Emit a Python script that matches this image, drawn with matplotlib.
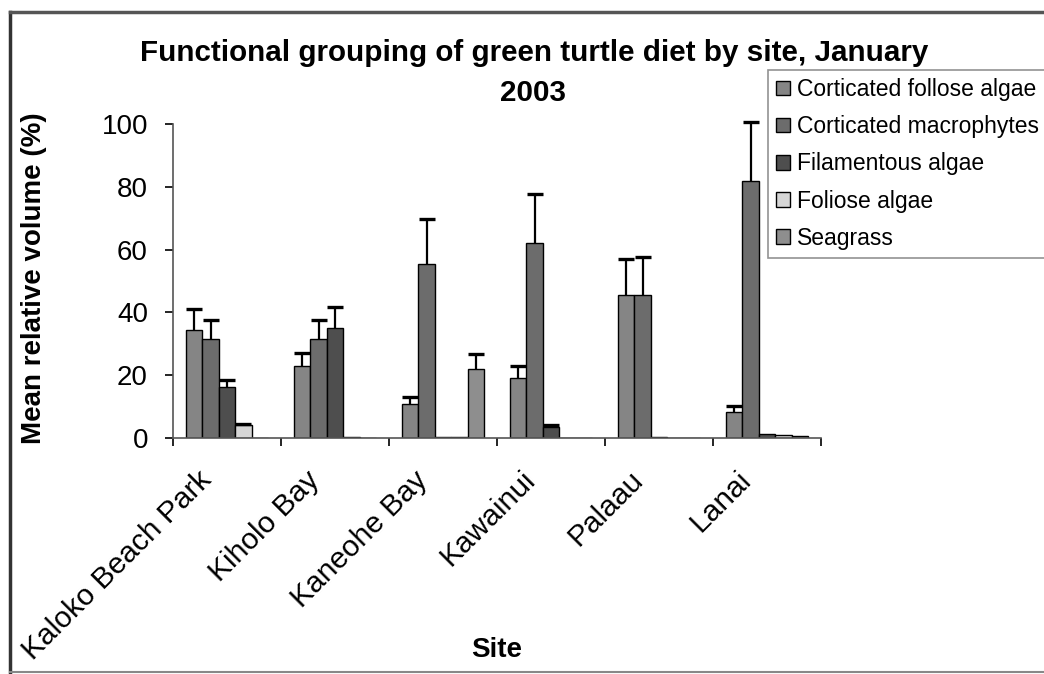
import numpy as np
import matplotlib
matplotlib.use("Agg")
from matplotlib import pyplot as plt
from matplotlib.lines import Line2D
from matplotlib.transforms import ScaledTranslation

plt.rcParams['font.family'] = ['Liberation Sans', 'DejaVu Sans']

# sites and diet groups
sites = ["Kaloko Beach Park", "Kiholo Bay", "Kaneohe Bay", "Kawainui", "Palaau", "Lanai"]
legend_labels = ["Corticated follose algae", "Corticated macrophytes", "Filamentous algae",
                 "Foliose algae", "Seagrass"]

# mean relative volume (%) per group, one value per site
cfa = [34.3, 22.9, 10.8, 19.0, 45.6, 8.2]
cm = [31.6, 31.4, 55.4, 62.0, 45.6, 82.0]
fil = [16.3, 35.1, 0.4, 3.5, 0.4, 1.3]
fol = [4.0, 0.3, 0.3, 0.0, 0.0, 1.0]
sea = [0.0, 0.0, 22.1, 0.0, 0.0, 0.5]

# upper error (+SE)
cfa_err = [6.9, 4.3, 2.2, 3.8, 11.3, 1.9]
cm_err = [6.1, 6.3, 14.5, 15.8, 11.9, 18.7]
fil_err = [2.2, 6.6, 0.0, 0.5, 0.0, 0.0]
fol_err = [0.5, 0.0, 0.0, 0.0, 0.0, 0.0]
sea_err = [0.0, 0.0, 4.5, 0.0, 0.0, 0.0]

means = [cfa, cm, fil, fol, sea]
errs = [cfa_err, cm_err, fil_err, fol_err, sea_err]
colors = ["#858585", "#6c6c6c", "#4e4e4e", "#d6d6d6", "#8e8e8e"]

fig = plt.figure(figsize=(10.44, 6.74), dpi=100)
ax = fig.add_axes([173/1044, 1-438/674, (821-173)/1044, (438-124)/674])

x = np.arange(len(sites))
w = 0.152
for i in range(5):
    pos = x - 2*w + i*w
    m = np.array(means[i])
    e = np.array(errs[i])
    ax.bar(pos, m, w, color=colors[i], edgecolor="black", linewidth=1.0,
           label=legend_labels[i], zorder=2)
    # upper error bar only
    has = e > 0
    ax.vlines(pos[has], m[has], m[has] + e[has], color="black", linewidth=1.6,
              zorder=3, clip_on=False)
    ax.plot(pos[has], m[has] + e[has], linestyle="none", marker="_", markersize=11,
            markeredgewidth=2.4, color="black", zorder=3, clip_on=False)

ax.set_xlim(-0.5, 5.5)
ax.set_ylim(0, 100)
ax.set_yticks([0, 20, 40, 60, 80, 100])
ax.set_xticks(np.arange(-0.5, 6, 1), minor=True)
ax.tick_params(axis="x", which="major", length=0, pad=20)
ax.tick_params(axis="x", which="minor", length=6, width=1.2, direction="out")
ax.tick_params(axis="y", labelsize=20, length=6, width=1.2, pad=12)
ax.set_xticks(x)
ax.set_xticklabels(sites, rotation=45, ha="right", va="top", fontsize=21.5)
# nudge the site names a bit to the left (after tick_params, which resets transforms)
shift = ScaledTranslation(-0.10, 0, fig.dpi_scale_trans)
for lab in ax.get_xticklabels():
    lab.set_transform(lab.get_transform() + shift)
for s in ["top", "right"]:
    ax.spines[s].set_visible(False)
ax.spines["left"].set_color("#555555")
ax.spines["bottom"].set_color("#555555")
ax.spines["left"].set_linewidth(1.2)
ax.spines["bottom"].set_linewidth(1.2)

ax.set_xlabel("Site", fontsize=20, fontweight="bold")
ax.xaxis.set_label_coords(0.5, -0.635)
ax.set_ylabel("Mean relative volume (%)", fontsize=20, fontweight="bold")
ax.yaxis.set_label_coords(-0.195, 0.51)

fig.text(534/1044, 1-53/674, "Functional grouping of green turtle diet by site, January",
         ha="center", va="center", fontsize=21.3, fontweight="bold")
fig.text(533/1044, 1-93/674, "2003", ha="center", va="center", fontsize=21.3, fontweight="bold")

leg = fig.legend(loc="upper left", bbox_to_anchor=(768/1044, 1-70/674),
                 bbox_transform=fig.transFigure, fontsize=16.5, frameon=True,
                 fancybox=False, edgecolor="#777777", borderaxespad=0,
                 handlelength=0.6, handleheight=0.6, handletextpad=0.3,
                 labelspacing=0.62, borderpad=0.35)
leg.get_frame().set_linewidth(1.2)

# scanned page frame
fig.add_artist(Line2D([10/1044, 10/1044], [0, 1-12/674], transform=fig.transFigure,
                      color="#333333", linewidth=2.5))
fig.add_artist(Line2D([10/1044, 1], [1-12/674, 1-12/674], transform=fig.transFigure,
                      color="#555555", linewidth=2.5))
fig.add_artist(Line2D([10/1044, 1], [2/674, 2/674], transform=fig.transFigure,
                      color="#888888", linewidth=1.5))

fig.savefig("out.png", dpi=100)
